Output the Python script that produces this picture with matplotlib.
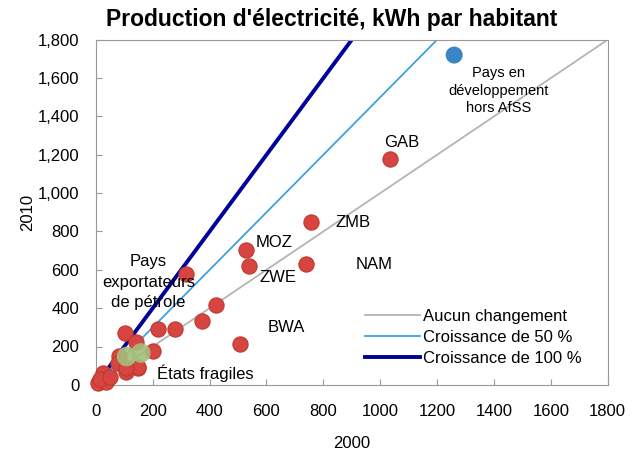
import numpy as np
import matplotlib
matplotlib.use('Agg')
from matplotlib import pyplot as plt
from matplotlib.ticker import FuncFormatter

plt.rcParams['font.family'] = ['Liberation Sans Narrow', 'Liberation Sans', 'DejaVu Sans']

# countries (kWh per capita): 2000 vs 2010
x_red = [1034, 756, 527, 538, 738, 506, 316, 424, 372, 280, 219, 101, 142, 200,
         83, 148, 107, 77, 25, 7, 36, 149, 105, 15, 50]
y_red = [1179, 850, 704, 621, 631, 214, 579, 414, 334, 289, 291, 269, 226, 174,
         148, 87, 69, 113, 61, 9, 17, 92, 87, 30, 40]
x_blue = [1260]
y_blue = [1720]
x_green = [108, 158]
y_green = [148, 166]

labels = [('GAB', 1075, 1265), ('ZMB', 905, 845), ('MOZ', 625, 745),
          ('ZWE', 640, 560), ('NAM', 980, 628), ('BWA', 670, 300)]

ref_x = np.array([0, 1800])

fig = plt.figure(figsize=(6.35, 4.62), dpi=100)
ax = fig.add_axes([0.151, 0.167, 0.806, 0.747])

l1, = ax.plot(ref_x, ref_x, color='#B4B4B4', lw=1.3, label='Aucun changement', zorder=2)
l2, = ax.plot(ref_x, 1.5 * ref_x, color='#3FA0E0', lw=1.3, label='Croissance de 50 %', zorder=2)
l3, = ax.plot(ref_x, 2 * ref_x, color='#00009A', lw=2.8, label='Croissance de 100 %', zorder=2)

ax.scatter(x_red, y_red, s=120, color='#D64541', edgecolors='#C0392B', linewidths=0.8,
           zorder=3, clip_on=False)
ax.scatter(x_green, y_green, s=200, color='#A3BF7A', edgecolors='none', alpha=0.9, zorder=4)
ax.scatter(x_blue, y_blue, s=150, color='#3A85C6', edgecolors='none', zorder=3)

for txt, lx, ly in labels:
    ax.text(lx, ly, txt, fontsize=12, ha='center', va='center', zorder=5)
ax.text(1415, 1535, 'Pays en\ndéveloppement\nhors AfSS', fontsize=10.5, ha='center', va='center',
        linespacing=1.3, zorder=5)
ax.text(185, 535, 'Pays\nexportateurs\nde pétrole', fontsize=12, ha='center', va='center',
        linespacing=1.45, zorder=5)
ax.text(385, 60, 'États fragiles', fontsize=12, ha='center', va='center', zorder=5)

ax.set_xlim(0, 1800)
ax.set_ylim(0, 1800)
ax.set_xticks(np.arange(0, 1801, 200))
ax.set_yticks(np.arange(0, 1801, 200))
ax.yaxis.set_major_formatter(FuncFormatter(lambda v, p: f'{int(v):,}'))
ax.tick_params(direction='in', length=4, color='#999999', labelsize=12)
ax.tick_params(axis='x', pad=14)
ax.tick_params(axis='y', pad=12)
for sp in ax.spines.values():
    sp.set_color('#999999')
ax.set_xlabel('2000', fontsize=12, labelpad=12)
ax.set_ylabel('2010', fontsize=12, labelpad=2)
ax.set_title("Production d'électricité, kWh par habitant", fontsize=16.5,
             fontweight='bold', x=0.46, pad=10)

ax.legend(handles=[l1, l2, l3], loc='lower left', bbox_to_anchor=(0.525, 0.055),
          frameon=False, fontsize=12, handlelength=3.3, handletextpad=0.2,
          labelspacing=0.35, borderaxespad=0, borderpad=0)

fig.savefig('out.png', dpi=100)
